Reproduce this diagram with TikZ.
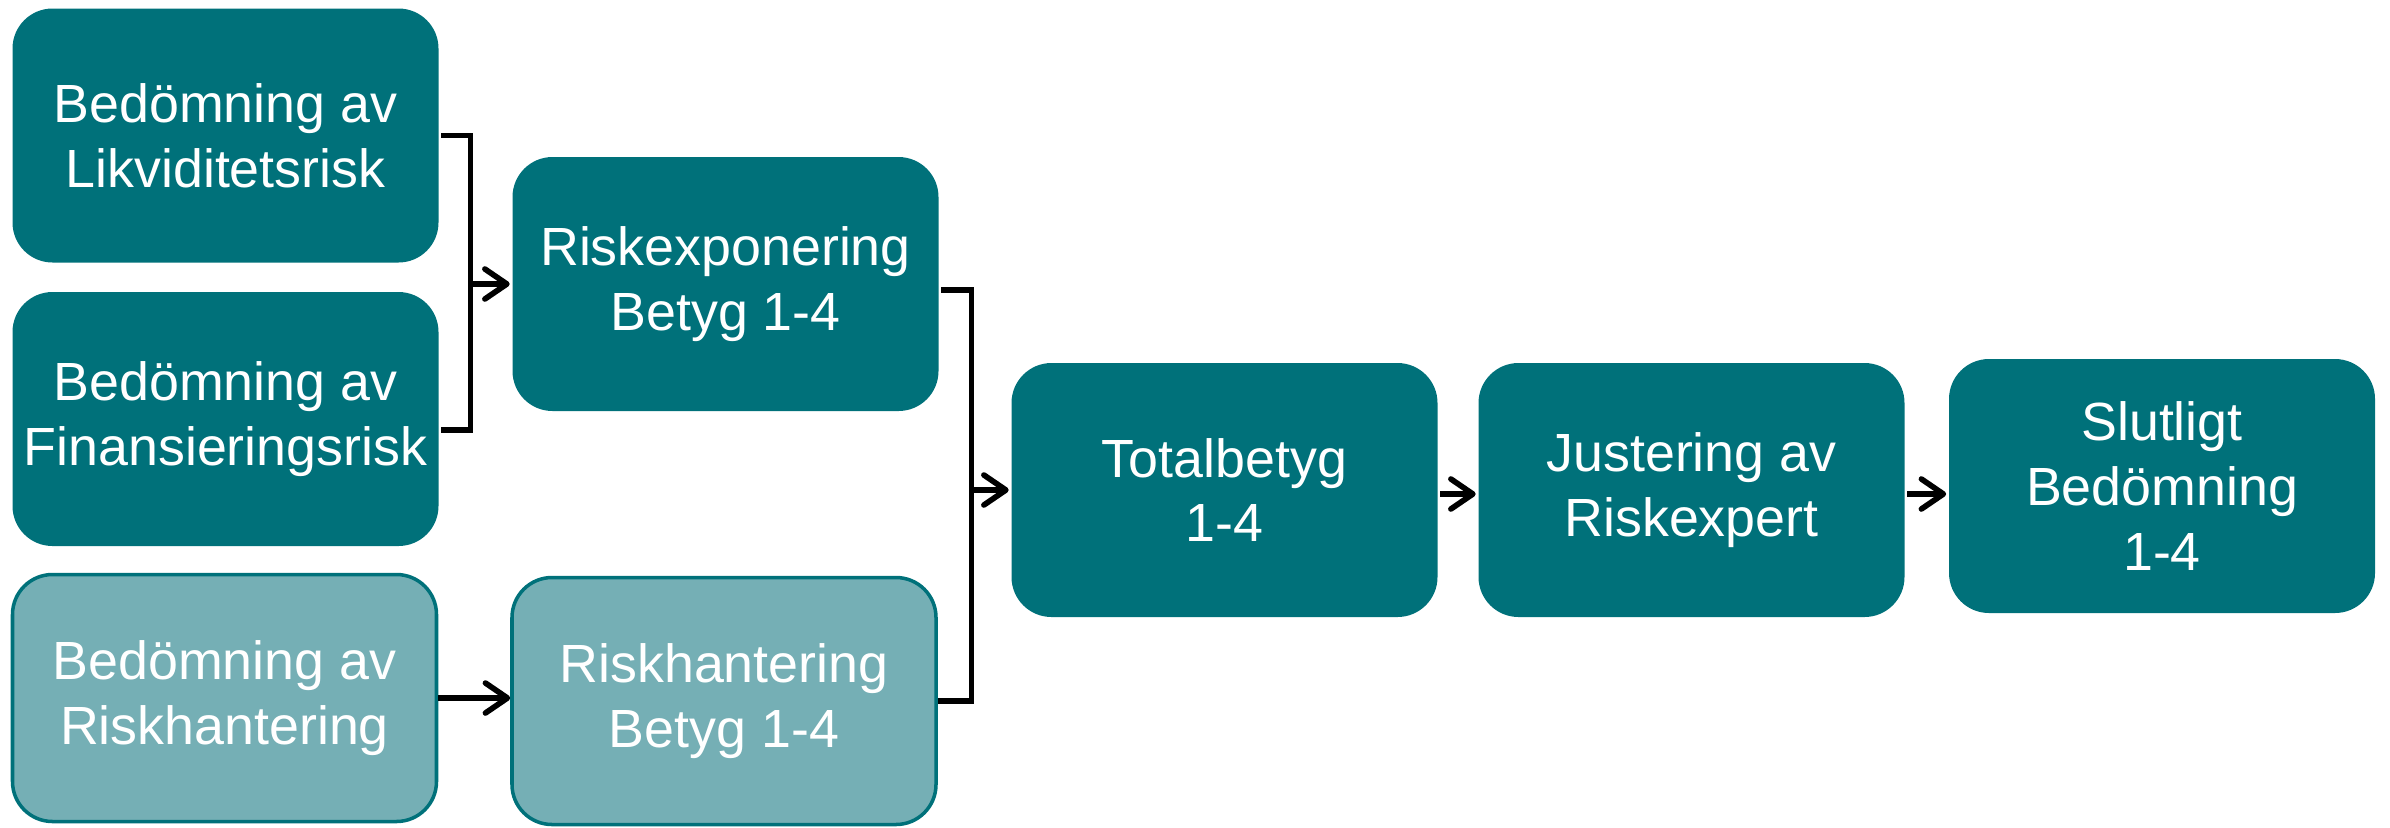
\documentclass[tikz,border=0pt]{standalone}
\usepackage{fontspec}
\setmainfont{Liberation Sans}
\usetikzlibrary{arrows.meta}
\definecolor{tealfonce}{RGB}{0,113,122}
\definecolor{tealclair}{RGB}{117,175,181}

\begin{document}
\begin{tikzpicture}[line width=1.6pt, >={Straight Barb[length=0.22cm,width=0.3cm,round]},
  bloc/.style={rectangle, rounded corners=0.4cm, fill=tealfonce, text=white, align=center,
    minimum width=4.26cm, minimum height=2.54cm, inner sep=0pt,
    font=\fontsize{15.3}{18.4}\selectfont},
  blocclair/.style={bloc, fill=tealclair, draw=tealfonce, line width=1pt,
    minimum width=4.24cm, minimum height=2.47cm}]
\useasboundingbox (0,0) rectangle (23.9,8.27);
\node[bloc] (A) at (2.255,6.915) {Bedömning av\\Likviditetsrisk};
\node[bloc] (B) at (2.255,4.08) {Bedömning av\\Finansieringsrisk};
\node[blocclair] (C) at (2.245,1.29) {Bedömning av\\Riskhantering};
\node[bloc] (D) at (7.255,5.43) {Riskexponering\\Betyg 1-4};
\node[blocclair] (E) at (7.24,1.26) {Riskhantering\\Betyg 1-4};
\node[bloc] (F) at (12.245,3.37) {Totalbetyg\\1-4};
\node[bloc] (G) at (16.915,3.37) {Justering av\\Riskexpert};
\node[bloc] (H) at (21.62,3.41) {Slutligt\\Bedömning\\1-4};
\draw (A.east) -- ++(0.29,0) coordinate (j1) |- ([yshift=-0.11cm]B.east);
\draw[->] (j1 |- D.west) -- (D.west);
\draw ([yshift=-0.06cm]D.east) -- ++(0.30,0) coordinate (j2) |- (E.east);
\draw[->] (j2 |- F.west) -- (F.west);
\draw[->] (C.east) -- (C.east -| E.west);
\draw[->] ([yshift=-0.04cm]F.east) -- ([yshift=-0.04cm]G.west);
\draw[->] ([yshift=-0.04cm]G.east) -- ([yshift=-0.04cm]G.east -| H.west);
\end{tikzpicture}
\end{document}
